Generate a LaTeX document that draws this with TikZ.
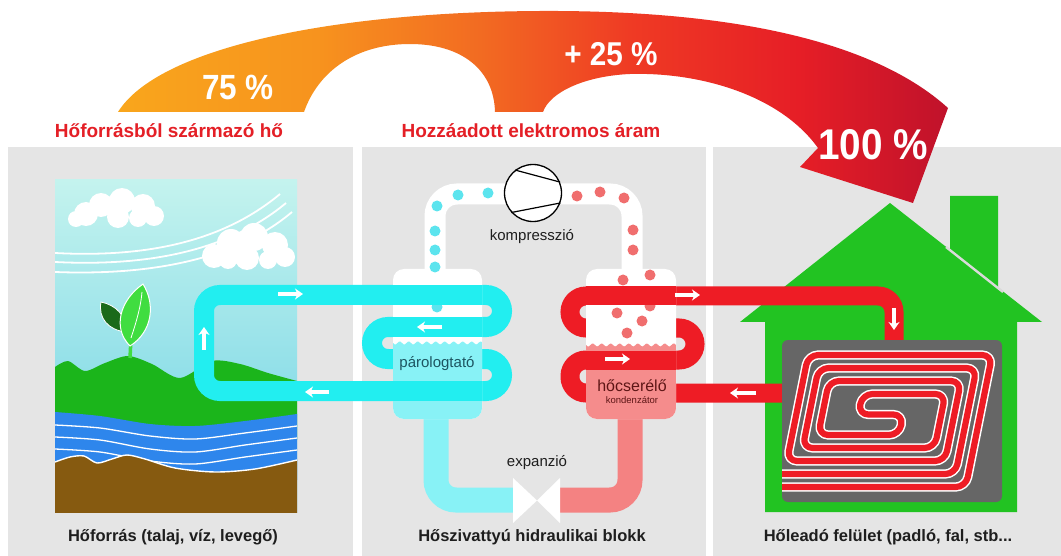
\documentclass[tikz,border=0pt]{standalone}
\usepackage{fontspec}
\setmainfont{Liberation Sans}
\newfontfamily\numfont[FakeStretch=0.9]{Liberation Sans}
\usetikzlibrary{arrows.meta}

\definecolor{cPanel}{HTML}{E5E5E5}
\definecolor{cCyan}{HTML}{22EEF0}
\definecolor{cCyanLight}{HTML}{88F2F6}
\definecolor{cCyanDot}{HTML}{5CE4EE}
\definecolor{cRed}{HTML}{EE1C25}
\definecolor{cPink}{HTML}{F48282}
\definecolor{cPinkLight}{HTML}{F58C8C}
\definecolor{cRedDot}{HTML}{F06E6E}
\definecolor{cHouse}{HTML}{22C322}
\definecolor{cHill}{HTML}{1BB51B}
\definecolor{cSkyTop}{HTML}{C4F3EE}
\definecolor{cSkyBottom}{HTML}{6ED2E5}
\definecolor{cWater}{HTML}{2E86EC}
\definecolor{cSoil}{HTML}{865A10}
\definecolor{cLeafLight}{HTML}{40DD40}
\definecolor{cLeafDark}{HTML}{1A6A1A}
\definecolor{cFloor}{HTML}{666666}
\definecolor{cRoofGap}{HTML}{DADADA}
\definecolor{cLabelRed}{HTML}{E41F26}
\definecolor{cText}{HTML}{1E1E1E}
\definecolor{cEvapText}{HTML}{1D5561}
\definecolor{cCondText}{HTML}{5E1616}
\definecolor{arrA}{HTML}{F9A61C}
\definecolor{arrB}{HTML}{F7931E}
\definecolor{arrC}{HTML}{F26A22}
\definecolor{arrD}{HTML}{EF3A24}
\definecolor{arrE}{HTML}{E61E26}
\definecolor{arrF}{HTML}{C0122B}

% orange-to-red flow of the energy arch
\pgfdeclarehorizontalshading{heatflow}{100bp}{color(0bp)=(arrA); color(25bp)=(arrA); color(37bp)=(arrB); color(47bp)=(arrC); color(56bp)=(arrD); color(66bp)=(arrE); color(75bp)=(arrF); color(100bp)=(arrF)}

\begin{document}
\begin{tikzpicture}[x=1pt,y=-1pt,
  coldpipe/.style={draw=cCyan, line width=20pt, rounded corners=16pt},
  hotpipe/.style={draw=cRed, line width=19pt, rounded corners=16pt},
  flowarrow/.style={draw=white, line width=3.4pt, -{Stealth[length=8pt,width=11pt,inset=2.5pt]}},
  coil/.style={draw=white, line width=1.5pt, double=cRed, double distance=6.2pt, rounded corners=10pt, line join=round},
  steptext/.style={font=\fontsize{15}{17}\selectfont, text=cText},
  caption/.style={font=\bfseries\fontsize{16.5}{19}\selectfont, text=cText, anchor=base},
  heatlabel/.style={font=\bfseries\fontsize{19}{22}\selectfont, text=cLabelRed, anchor=base},
  pct/.style={font=\numfont\bfseries\fontsize{35}{38}\selectfont, text=white, anchor=base},
]
\useasboundingbox (0,0) rectangle (1061,556);
\fill[white] (0,0) rectangle (1061,556);

% three panels
\fill[cPanel] (8,147) rectangle (353,556);
\fill[cPanel] (362,147) rectangle (706,556);
\fill[cPanel] (713,147) rectangle (1061,556);

% ---------- heat source landscape ----------
\begin{scope}
\clip (55,180) rectangle (297,512);
\shade[top color=cSkyTop, bottom color=cSkyBottom] (55,180) rectangle (297,512);
\fill[white] (86,214) circle[radius=12] (101,205) circle[radius=12] (122,201) circle[radius=13]
  (143,206) circle[radius=12] (154,216) circle[radius=10] (118,217) circle[radius=11]
  (138,218) circle[radius=9] (76,219) circle[radius=8];
\fill[white] (214,256) circle[radius=12] (231,243) circle[radius=14] (254,237) circle[radius=14]
  (275,245) circle[radius=13] (285,257) circle[radius=10] (247,258) circle[radius=12]
  (228,260) circle[radius=9] (268,260) circle[radius=9];
\draw[white, line width=1.8pt] (55,253) .. controls (150,258) and (225,240) .. (280,194);
\draw[white, line width=1.8pt] (55,262) .. controls (155,267) and (232,248) .. (286,203);
\draw[white, line width=1.8pt] (55,272) .. controls (160,276) and (240,256) .. (292,212);
\fill[cHill] (55,440) -- plot[smooth] coordinates {(55,367) (68,361) (85,371) (105,363) (128,356) (152,364) (180,378) (212,361) (240,364) (268,373) (297,381)} -- (297,440) -- cycle;
\fill[cWater] (55,480) -- plot[smooth] coordinates {(55,412) (100,416) (150,424) (195,426) (245,421) (297,414)} -- (297,480) -- cycle;
\draw[white, line width=1.3pt] plot[smooth] coordinates {(55,425) (100,428) (150,436) (195,439) (245,433) (297,426)};
\draw[white, line width=1.3pt] plot[smooth] coordinates {(55,437) (100,440) (150,449) (195,452) (245,445) (297,438)};
\draw[white, line width=1.3pt] plot[smooth] coordinates {(55,449) (100,452) (150,461) (195,464) (245,457) (297,450)};
\fill[cSoil] (55,515) -- plot[smooth] coordinates {(55,462) (70,457) (84,456) (97,463) (112,459) (127,455) (145,459) (175,468) (215,472) (255,469) (297,460)} -- (297,515) -- cycle;
\draw[white, line width=1.4pt] plot[smooth] coordinates {(55,462) (70,457) (84,456) (97,463) (112,459) (127,455) (145,459) (175,468) (215,472) (255,469) (297,460)};
% sprout
\draw[cLeafLight, line width=3.5pt] (130,358) -- (131,338);
\fill[cLeafDark, draw=white, line width=0.8pt] (126,332) .. controls (108,330) and (98,318) .. (101,302) .. controls (116,305) and (127,316) .. (126,332) -- cycle;
\fill[cLeafLight, draw=white, line width=1pt] (130,346) .. controls (112,328) and (120,300) .. (143,284) .. controls (156,305) and (152,332) .. (130,346) -- cycle;
\draw[white, line width=0.8pt] (131,338) .. controls (137,320) and (141,305) .. (142,292);
\end{scope}

% ---------- house ----------
\fill[cHouse] (950,196) -- (998,196) -- (998,290) -- (950,252) -- cycle;
\fill[cHouse] (740,322) -- (890,203) -- (1042,322) -- (1017,322) -- (1017,512) -- (765,512) -- (765,322) -- cycle;
\draw[cRoofGap, line width=2.4pt] (946,247) -- (1003,292);

% ---------- refrigerant circuit ----------
\draw[draw=white, line width=21pt, rounded corners=22pt] (435,275) -- (435,194) -- (632,194) -- (632,275);
\draw[draw=cCyanLight, line width=25pt, rounded corners=20pt] (436,405) -- (436,500) -- (515,500);
\draw[draw=cPink, line width=25pt, rounded corners=20pt] (558,500) -- (630,500) -- (630,405);

% source brine loop and heating water loop
\draw[coldpipe] (204,391) -- (204,295) -- (502,295) -- (502,327) -- (372,327) -- (372,359) -- (502,359) -- (502,391) -- cycle;
\draw[hotpipe] (784,393) -- (570,393) -- (570,360) -- (695,360) -- (695,328) -- (570,328) -- (570,296) -- (894,296) -- (894,344);

% floor heating coil
\fill[cFloor, rounded corners=6pt] (782,340) rectangle (1002,502);
\begin{scope}
\clip[rounded corners=6pt] (782,340) rectangle (1002,502);
\begin{scope}[shift={(887,421)}, xslant=0.2]
\draw[coil] (-150,66) -- (92,66) -- (92,-66) -- (-92,-66) -- (-92,40) -- (66,40) -- (66,-40) -- (-66,-40) -- (-66,14) -- (15,14) -- (15,-6.5) -- (-30,-6.5) -- (-30,-27) -- (53,-27) -- (53,27) -- (-79,27) -- (-79,-53) -- (79,-53) -- (79,53) -- (-150,53);
\end{scope}
\end{scope}

% evaporator vessel
\fill[white, rounded corners=11pt] (393,269) rectangle (482,419);
\begin{scope}
\clip[rounded corners=11pt] (393,269) rectangle (482,419);
\fill[cCyanLight] (393,425) -- plot[domain=393:482, samples=60] (\x,{343+1.5*sin(40*(\x-393))}) -- (482,425) -- cycle;
\end{scope}
% condenser vessel
\fill[white, rounded corners=11pt] (586,269) rectangle (676,419);
\begin{scope}
\clip[rounded corners=11pt] (586,269) rectangle (676,419);
\fill[cPinkLight] (586,425) -- plot[domain=586:676, samples=60] (\x,{345+1.5*sin(40*(\x-586))}) -- (676,425) -- cycle;
\end{scope}

% refrigerant drops inside the vessels
\fill[cCyanDot] (437,307) circle[radius=5.5];
\fill[cRedDot] (650,306) circle[radius=5.5] (623,280) circle[radius=5.5] (650,275) circle[radius=5.5]
  (617,313) circle[radius=5.5] (642,321) circle[radius=5.5] (627,333) circle[radius=5.5];

% pipe runs passing in front of the vessels
\draw[draw=cCyan, line width=20pt] (393,295) -- (482,295) (393,327) -- (482,327) (393,391) -- (482,391);
\draw[draw=cRed, line width=19pt] (586,296) -- (676,296) (586,360) -- (676,360);

% vapour line drops
\fill[cCyanDot] (488,193) circle[radius=5.5] (458,195) circle[radius=5.5] (437,206) circle[radius=5.5]
  (435,231) circle[radius=5.5] (435,250) circle[radius=5.5] (435,267) circle[radius=5.5];
\fill[cRedDot] (577,196) circle[radius=5.5] (600,192) circle[radius=5.5] (624,198) circle[radius=5.5]
  (633,230) circle[radius=5.5] (633,250) circle[radius=5.5];

% compressor
\node[circle, draw=black, line width=1.3pt, fill=white, minimum size=57pt, inner sep=0pt] (comp) at (533,193) {};
\draw[line width=1.2pt] (comp.128) -- (comp.22) (comp.222) -- (comp.340);

% expansion valve
\fill[white] (513,478) -- (513,523) -- (537,500.5) -- cycle (560,478) -- (560,523) -- (537,500.5) -- cycle;

% flow directions
\draw[flowarrow] (278,294) -- (303,294);
\draw[flowarrow] (204,350) -- (204,327);
\draw[flowarrow] (329,392) -- (305,392);
\draw[flowarrow] (442,327) -- (417,327);
\draw[flowarrow] (675,295) -- (700,295);
\draw[flowarrow] (605,359) -- (630,359);
\draw[flowarrow] (756,393) -- (730,393);
\draw[flowarrow] (894,308) -- (894,330);

% component labels
\node[steptext] (kompr) at (532,237) {kompresszió};
\node[steptext] (expan) at (537,463) {expanzió};
\node[font=\fontsize{15}{17}\selectfont, text=cEvapText] (evap) at (437,364) {párologtató};
\node[font=\fontsize{16}{18}\selectfont, text=cCondText] (cond) at (632,386) {hőcserélő};
\node[font=\fontsize{9.5}{11}\selectfont, text=cCondText] (condsub) at (632,400) {kondenzátor};

% panel captions
\node[caption] (src) at (173,541) {Hőforrás (talaj, víz, levegő)};
\node[caption] (pump) at (532,541) {Hőszivattyú hidraulikai blokk};
\node[caption] (emit) at (888,541) {Hőleadó felület (padló, fal, stb...};

% energy balance arch
\shade[shading=heatflow] (118,112) .. controls (158,48) and (330,12) .. (540,11)
  .. controls (735,10) and (875,42) .. (948,108) -- (913,203) -- (800,167) -- (818,148)
  .. controls (780,95) and (700,72) .. (630,74) .. controls (585,76) and (550,92) .. (543,112)
  -- (495,112) .. controls (494,70) and (462,44) .. (410,44) .. controls (355,44) and (318,72) .. (304,112) -- cycle;
\node[pct] (p75) at (238,100) {75 \%};
\node[pct, font=\numfont\bfseries\fontsize{33}{36}\selectfont] (p25) at (611,66) {+ 25 \%};
\node[pct, font=\numfont\bfseries\fontsize{43}{46}\selectfont] (p100) at (873,160) {100 \%};
\node[heatlabel] (srcheat) at (169,138) {Hőforrásból származó hő};
\node[heatlabel] (elec) at (531,138) {Hozzáadott elektromos áram};
\end{tikzpicture}
\end{document}
